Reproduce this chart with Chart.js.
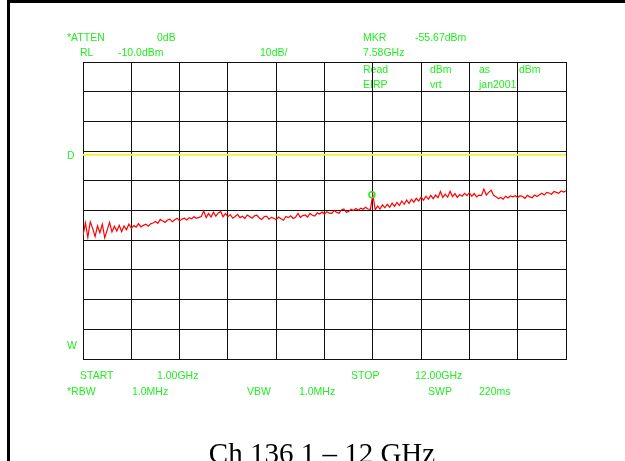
<!DOCTYPE html>
<html>
<head>
<meta charset="utf-8">
<script src="https://cdn.jsdelivr.net/npm/chart.js@4"></script>
<style>
  html, body { margin: 0; padding: 0; background: #fff; }
  canvas { display: block; }
</style>
</head>
<body>
<canvas id="sa" width="625" height="461"></canvas>
<script>
// sweep settings
const START_GHZ = 1.0;
const STOP_GHZ = 12.0;
const REF_LEVEL = -10;   // top of screen, dBm
const BOTTOM_LEVEL = -110;

// vertical divisions (GHz) - 10 divisions across the sweep
const freqTicks = [1, 2.1, 3.2, 4.3, 5.4, 6.5, 7.6, 8.7, 9.8, 10.9, 12];

// trace, dBm (201 sweep points)
const traceDbm = [
  -68.5, -64.2, -69.0, -63.8, -66.0, -68.8, -65.2, -67.5, -64.6, -69.2,
  -66.6, -64.0, -67.2, -65.3, -66.9, -65.0, -67.1, -65.2, -66.5, -64.6,
  -66.0, -65.1, -65.6, -64.4, -65.5, -65.0, -64.6, -65.3, -64.5, -64.2,
  -63.7, -64.3, -63.0, -63.5, -64.0, -63.2, -62.9, -63.8, -63.1, -62.6,
  -63.5, -62.9, -62.6, -63.2, -62.4, -62.8, -62.1, -62.6, -62.3, -62.0,
  -60.1, -62.4, -61.0, -62.2, -60.6, -61.9, -60.8, -60.3, -62.1, -61.0,
  -62.1, -61.4, -62.6, -62.0, -61.3, -62.4, -61.9, -62.7, -61.5, -62.0,
  -62.6, -61.8, -61.6, -62.5, -63.0, -62.1, -61.9, -62.9, -62.3, -62.6,
  -63.1, -62.2, -62.8, -63.3, -62.0, -62.4, -61.8, -62.7, -62.3, -61.0,
  -62.3, -61.7, -61.5, -62.2, -61.0, -61.6, -61.9, -60.8, -61.2, -60.5,
  -61.2, -60.4, -60.9, -61.0, -60.0, -60.6, -60.9, -59.8, -59.5, -60.6,
  -60.3, -59.6, -60.0, -59.3, -59.9, -59.2, -59.6, -58.9, -59.5, -59.6,
  -54.7, -59.8, -58.5, -59.5, -58.1, -59.1, -57.9, -58.9, -57.5, -58.6,
  -57.3, -58.3, -56.8, -57.9, -56.5, -57.6, -56.2, -57.2, -55.9, -56.8,
  -55.5, -56.5, -55.2, -56.2, -54.9, -56.0, -54.8, -55.7, -53.6, -55.6,
  -54.5, -55.5, -53.5, -55.3, -54.3, -55.6, -54.6, -55.2, -54.2, -55.0,
  -54.0, -55.2, -54.3, -55.4, -54.8, -55.0, -52.8, -54.8, -53.9, -53.2,
  -54.9, -55.4, -56.0, -55.6, -56.2, -55.2, -55.8, -55.1, -55.4, -55.0,
  -55.6, -55.0, -55.3, -55.9, -54.9, -55.4, -55.7, -54.8, -55.3, -54.7,
  -54.2, -54.8, -53.9, -54.1, -54.5, -53.6, -53.9, -54.2, -53.4, -53.8,
  -53.4
];

// marker and display line
const markerFreq = [7.58];
const markerDbm = [-54.7];
const displayLineDbm = [-41.2];

// analyzer annotations (text, x, baseline y)
const screenLabels = [
  ["*ATTEN", 67, 41], ["0dB", 157, 41],
  ["RL", 80, 56], ["-10.0dBm", 118, 56], ["10dB/", 260, 56],
  ["MKR", 363, 41], ["-55.67dBm", 415, 41], ["7.58GHz", 363, 56],
  ["Read", 363, 73], ["dBm", 430, 73], ["as", 479, 73], ["dBm", 519, 73],
  ["EIRP", 363, 88], ["vrt", 430, 88], ["jan2001", 479, 88],
  ["D", 67, 159], ["W", 67, 349],
  ["START", 80, 379], ["1.00GHz", 157, 379], ["STOP", 351, 379], ["12.00GHz", 415, 379],
  ["*RBW", 67, 395], ["1.0MHz", 132, 395], ["VBW", 247, 395], ["1.0MHz", 299, 395],
  ["SWP", 428, 395], ["220ms", 479, 395]
];
const caption = "Ch 136 1 \u2013 12 GHz";

const GREEN = '#22ee22';

const stepGhz = (STOP_GHZ - START_GHZ) / (traceDbm.length - 1);
const tracePoints = traceDbm.map((v, i) => ({ x: START_GHZ + i * stepGhz, y: v }));

const screenText = {
  id: 'screenText',
  beforeDraw(chart) {
    const ctx = chart.ctx;
    ctx.save();
    ctx.fillStyle = '#fff';
    ctx.fillRect(0, 0, chart.width, chart.height);
    // frame
    ctx.fillStyle = '#000';
    ctx.fillRect(7, 0, 3, chart.height);
    ctx.fillRect(7, 0, chart.width - 7, 3);
    // green annotations
    ctx.fillStyle = GREEN;
    ctx.font = '10.5px "Liberation Sans", Arial, sans-serif';
    ctx.textBaseline = 'alphabetic';
    ctx.textAlign = 'left';
    screenLabels.forEach(([t, x, y]) => ctx.fillText(t, x, y));
    // caption
    ctx.fillStyle = '#000';
    ctx.font = '29px "Liberation Serif", "Times New Roman", serif';
    ctx.textAlign = 'center';
    ctx.fillText(caption, 322, 463);
    ctx.restore();
  }
};

new Chart(document.getElementById('sa'), {
  type: 'line',
  data: {
    datasets: [
      {
        data: markerFreq.map((f, i) => ({ x: f, y: markerDbm[i] })),
        showLine: false,
        pointRadius: 3,
        pointBorderWidth: 1.5,
        pointBorderColor: GREEN,
        pointBackgroundColor: 'rgba(0,0,0,0)',
        order: 0
      },
      {
        data: tracePoints,
        borderColor: '#ff0000',
        borderWidth: 1.2,
        pointRadius: 0,
        tension: 0,
        order: 1
      },
      {
        data: [{ x: START_GHZ, y: displayLineDbm[0] }, { x: STOP_GHZ, y: displayLineDbm[0] }],
        borderColor: '#f2f23a',
        borderWidth: 2,
        pointRadius: 0,
        order: 2
      }
    ]
  },
  options: {
    responsive: false,
    animation: false,
    events: [],
    layout: { padding: { left: 83, right: 59, top: 62, bottom: 102 } },
    plugins: { legend: { display: false }, tooltip: { enabled: false } },
    scales: {
      x: {
        type: 'linear',
        min: START_GHZ,
        max: STOP_GHZ,
        afterBuildTicks: s => { s.ticks = freqTicks.map(v => ({ value: v })); },
        ticks: { display: false },
        grid: { color: '#111', lineWidth: 1, drawTicks: false },
        border: { display: true, color: '#111' }
      },
      y: {
        min: BOTTOM_LEVEL,
        max: REF_LEVEL,
        ticks: { display: false, stepSize: 10 },
        grid: { color: '#111', lineWidth: 1, drawTicks: false },
        border: { display: true, color: '#111' }
      }
    }
  },
  plugins: [screenText]
});
</script>
</body>
</html>
